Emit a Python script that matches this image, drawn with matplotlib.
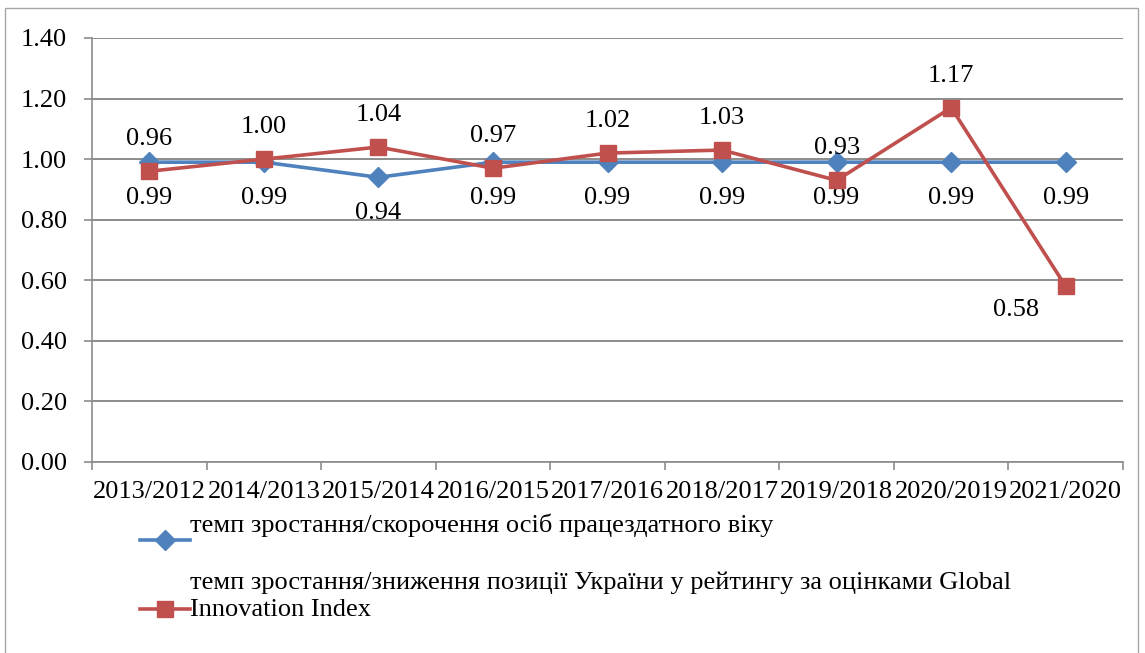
import matplotlib
matplotlib.use("Agg")
import matplotlib.pyplot as plt
from matplotlib.lines import Line2D
from matplotlib.patches import Rectangle
import numpy as np

plt.rcParams["font.family"] = ["Liberation Serif", "DejaVu Serif"]

periods = ["2013/2012", "2014/2013", "2015/2014", "2016/2015", "2017/2016",
           "2018/2017", "2019/2018", "2020/2019", "2021/2020"]
working_age = [0.99, 0.99, 0.94, 0.99, 0.99, 0.99, 0.99, 0.99, 0.99]
gii_rank = [0.96, 1.00, 1.04, 0.97, 1.02, 1.03, 0.93, 1.17, 0.58]

label_wa = "темп зростання/скорочення осіб працездатного віку"
label_gii = ("темп зростання/зниження позиції України у рейтингу за оцінками Global\n"
             "Innovation Index")

BLUE = "#4F81BD"
RED = "#C0504D"
GRID = "#8C8C8C"
FS = 19

W, H = 1145, 653
fig = plt.figure(figsize=(W / 100, H / 100), dpi=100)
ax = fig.add_axes([92 / W, 1 - 462 / H, (1123 - 92) / W, (462 - 38) / H])

x = np.arange(len(periods))
ax.plot(x, working_age, color=BLUE, lw=2.6, marker="D", ms=10, zorder=3)
ax.plot(x, gii_rank, color=RED, lw=2.6, marker="s", ms=11, zorder=4)

# value labels: working-age below its points, GII above (last one below-left)
for i, v in enumerate(working_age):
    ax.annotate(f"{v:.2f}", (x[i], v), xytext=(0, -36), textcoords="offset pixels",
                ha="center", va="center", fontsize=FS)
for i, v in enumerate(gii_rank):
    off = (-50, -24) if i == len(gii_rank) - 1 else (0, 32)
    ax.annotate(f"{v:.2f}", (x[i], v), xytext=off, textcoords="offset pixels",
                ha="center", va="center", fontsize=FS)

ax.set_xlim(-0.5, len(periods) - 0.5)
ax.set_ylim(0, 1.4)
ax.set_yticks(np.arange(0, 1.41, 0.2))
ax.set_yticklabels([f"{t:.2f}" for t in np.arange(0, 1.41, 0.2)], fontsize=FS)
ax.set_xticks(x)
ax.set_xticklabels(periods, fontsize=FS)
ax.set_xticks(np.arange(-0.5, len(periods)), minor=True)
ax.tick_params(axis="x", which="major", length=0, pad=14)
ax.tick_params(axis="x", which="minor", length=6, color=GRID, width=1.2)
ax.tick_params(axis="y", length=6, color=GRID, width=1.2, pad=12)

ax.grid(axis="y", color=GRID, lw=1.4)
ax.set_axisbelow(True)
for s in ["top", "right"]:
    ax.spines[s].set_visible(False)
for s in ["left", "bottom"]:
    ax.spines[s].set_color(GRID)
    ax.spines[s].set_linewidth(1.2)

# legend drawn below the plot area
def swatch(y, color, marker, ms):
    fig.add_artist(Line2D([140 / W, 190 / W], [1 - y / H] * 2, color=color, lw=2.6,
                          transform=fig.transFigure))
    fig.add_artist(Line2D([165 / W], [1 - y / H], color=color, marker=marker, ms=ms,
                          lw=0, transform=fig.transFigure))

swatch(540, BLUE, "D", 10)
fig.text(190 / W, 1 - 525 / H, label_wa, fontsize=FS, va="center", ha="left")
swatch(609, RED, "s", 11)
fig.text(190 / W, 1 - 596 / H, label_gii, fontsize=FS, va="center", ha="left",
         linespacing=1.3)

# outer chart border
fig.add_artist(Rectangle((5 / W, -0.1), (1138 - 5) / W, 1.1 - 8 / H, fill=False,
                         edgecolor="#A6A6A6", lw=1.0, transform=fig.transFigure))

fig.savefig("out.png", dpi=100)
